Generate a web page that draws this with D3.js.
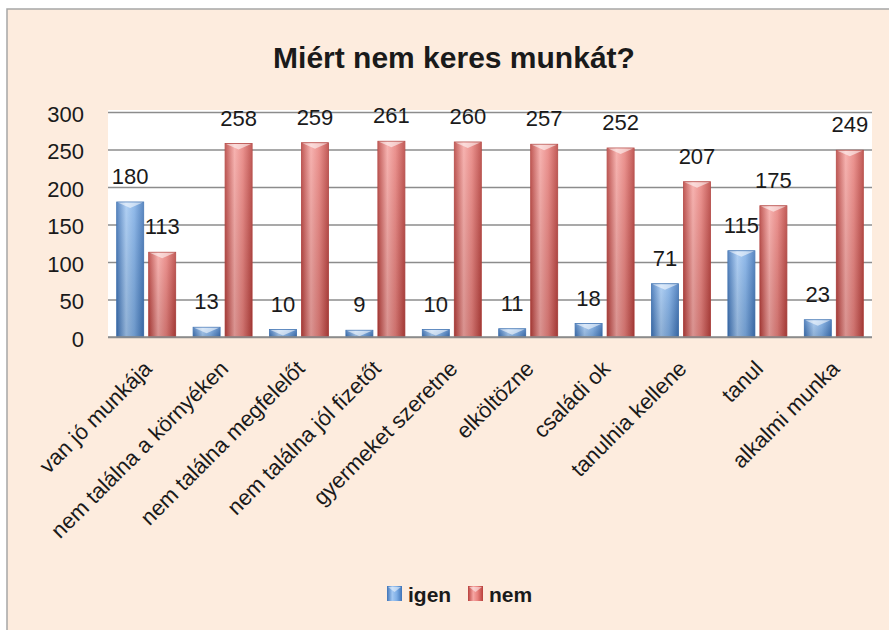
<!DOCTYPE html>
<html><head><meta charset="utf-8">
<script src="https://cdn.jsdelivr.net/npm/d3@7/dist/d3.min.js"></script>
<style>
html,body{margin:0;padding:0;background:#fff;}
svg{display:block;}
text{font-family:"Liberation Sans",Arial,sans-serif;fill:#1a1a1a;}
</style></head>
<body>
<svg id="chart" width="889" height="630"></svg>
<script>
const title = "Miért nem keres munkát?";
const categories = ["van jó munkája","nem találna a környéken","nem találna megfelelőt","nem találna jól fizetőt","gyermeket szeretne","elköltözne","családi ok","tanulnia kellene","tanul","alkalmi munka"];
const seriesNames = ["igen","nem"];
const igen = [180,13,10,9,10,11,18,71,115,23];
const nem = [113,258,259,261,260,257,252,207,175,249];
const yTicks = [0,50,100,150,200,250,300];

const svg = d3.select("#chart");
const defs = svg.append("defs");
function grad(id, edge, mid, center){
  const g = defs.append("linearGradient").attr("id", id).attr("x1","0").attr("x2","1").attr("y1","0").attr("y2","0");
  g.append("stop").attr("offset","0%").attr("stop-color", edge);
  g.append("stop").attr("offset","35%").attr("stop-color", center);
  g.append("stop").attr("offset","65%").attr("stop-color", mid);
  g.append("stop").attr("offset","100%").attr("stop-color", edge);
}
grad("gBlue", "#3f74b8", "#7eaee6", "#a3c8f2");
grad("gRed", "#b8403c", "#e8807c", "#f6a6a3");
const vg = defs.append("linearGradient").attr("id","gShade").attr("x1","0").attr("x2","0").attr("y1","0").attr("y2","1");
vg.append("stop").attr("offset","0%").attr("stop-color","#fff").attr("stop-opacity",0.15);
vg.append("stop").attr("offset","100%").attr("stop-color","#000").attr("stop-opacity",0.12);

// chart area background
svg.append("rect").attr("x",7).attr("y",9).attr("width",900).attr("height",640)
  .attr("fill","#fdecde").attr("stroke","#a6a6a6").attr("stroke-width",1.5);

const plot = {left:108, right:872, top:112, bottom:337};
svg.append("rect").attr("x",plot.left).attr("y",plot.top-2).attr("width",plot.right-plot.left).attr("height",plot.bottom-plot.top+2).attr("fill","#fff");

const y = d3.scaleLinear().domain([0,300]).range([plot.bottom, plot.top]);
const x0 = d3.scaleBand().domain(categories).range([plot.left, plot.right]).padding(0);
const x1 = d3.scaleBand().domain(seriesNames).range([8.7, x0.bandwidth()-8.7]).paddingInner(0.156);

// gridlines
const yAxis = d3.axisLeft(y).tickValues(yTicks).tickSize(-(plot.right-plot.left)).tickPadding(24);
const ya = svg.append("g").attr("transform",`translate(${plot.left},0)`).call(yAxis);
ya.select(".domain").remove();
ya.selectAll(".tick line").attr("stroke","#8c8c8c").attr("stroke-width",1.6);
ya.selectAll(".tick text").attr("font-size",22).attr("fill","#1a1a1a").attr("dy","0.42em")
  .style("font-family",'"Liberation Sans",Arial,sans-serif');

const data = categories.map((c,i)=>({cat:c, vals:[{s:"igen",v:igen[i]},{s:"nem",v:nem[i]}]}));
const groups = svg.append("g").selectAll("g").data(data).join("g")
  .attr("transform", d=>`translate(${x0(d.cat)},0)`);

groups.selectAll("rect.bar").data(d=>d.vals).join("rect").attr("class","bar")
  .attr("x", d=>x1(d.s)).attr("width", x1.bandwidth())
  .attr("y", d=>y(d.v)).attr("height", d=>y(0)-y(d.v))
  .attr("fill", d=> d.s==="igen" ? "url(#gBlue)" : "url(#gRed)")
  .attr("stroke", d=> d.s==="igen" ? "#3a6eaf" : "#b03e3a").attr("stroke-width",0.8);
groups.selectAll("rect.shade").data(d=>d.vals).join("rect").attr("class","shade")
  .attr("x", d=>x1(d.s)).attr("width", x1.bandwidth())
  .attr("y", d=>y(d.v)).attr("height", d=>y(0)-y(d.v)).attr("fill","url(#gShade)");
// top highlight chevron
groups.selectAll("path.hl").data(d=>d.vals).join("path").attr("class","hl")
  .attr("d", d=>{const xl=x1(d.s), w=x1.bandwidth(), t=y(d.v), h=Math.min(6, y(0)-y(d.v));
    return `M${xl+1},${t+0.5} L${xl+w-1},${t+0.5} L${xl+w/2},${t+h} Z`;})
  .attr("fill","#fff").attr("opacity",0.55);

groups.selectAll("text.lbl").data(d=>d.vals).join("text").attr("class","lbl")
  .attr("x", d=>x1(d.s)+x1.bandwidth()/2).attr("y", d=>y(d.v)-18)
  .attr("text-anchor","middle").attr("font-size",22).text(d=>d.v);

// x axis line
svg.append("line").attr("x1",plot.left).attr("x2",plot.right).attr("y1",plot.bottom).attr("y2",plot.bottom)
  .attr("stroke","#8c8c8c").attr("stroke-width",1.6);

// category labels
svg.append("g").selectAll("text").data(categories).join("text")
  .attr("transform", d=>`translate(${x0(d)+x0.bandwidth()/2+7},370) rotate(-45)`)
  .attr("text-anchor","end").attr("font-size",22).text(d=>d);

// title
svg.append("text").attr("x",454).attr("y",68).attr("text-anchor","middle")
  .attr("font-size",30).attr("font-weight","bold").text(title);

// legend
const legendItems = [{s:"igen",x:387,fill:"url(#gBlue)"},{s:"nem",x:468,fill:"url(#gRed)"}];
const lg = svg.append("g").selectAll("g").data(legendItems).join("g").attr("transform",d=>`translate(${d.x},586)`);
lg.append("rect").attr("width",15).attr("height",15).attr("fill",d=>d.fill);
lg.append("path").attr("d","M1,1 L14,1 L7.5,6 Z").attr("fill","#fff").attr("opacity",0.5);
lg.append("text").attr("x",21).attr("y",16).attr("font-size",21).attr("font-weight","bold").text(d=>d.s);
</script>
</body></html>
